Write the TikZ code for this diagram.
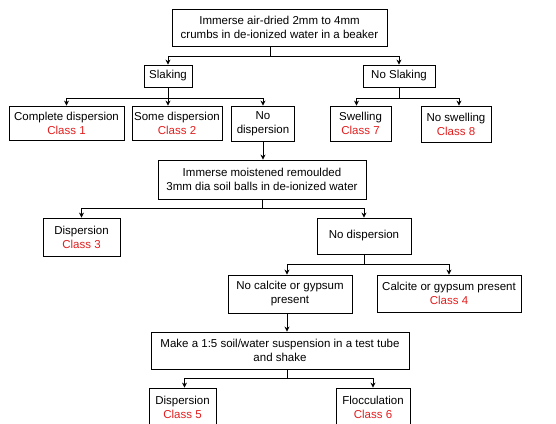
\documentclass[tikz,border=0pt]{standalone}
\usepackage{fontspec}
\setmainfont{Liberation Sans}
\usepackage{xcolor}
\usetikzlibrary{arrows.meta, positioning}

\definecolor{classred}{RGB}{225,30,30}
\newcommand{\cls}[1]{\textcolor{classred}{#1}}

\tikzset{
  box/.style={draw, line width=0.8pt, align=center, inner sep=1pt,
    font=\fontsize{11.5}{14}\selectfont},
  link/.style={line width=0.8pt},
}

\begin{document}
\begin{tikzpicture}[x=1pt,y=-1pt,>={Stealth[length=5pt,width=5pt]}]
			\useasboundingbox (0,0) rectangle (556,423);
			
			\node[box,minimum width=215pt,minimum height=37pt] (top) at (279.5,27.5) {Immerse air-dried 2mm to 4mm\\crumbs in de-ionized water in a beaker};
			\node[box,minimum width=48pt,minimum height=22pt] (slak) at (168,76) {Slaking};
			\node[box,minimum width=72pt,minimum height=22pt] (noslak) at (399,76) {No Slaking};
			
			\node[box,minimum width=115pt,minimum height=34pt] (comp) at (66.5,123) {Complete dispersion\\\cls{Class 1}};
			\node[box,minimum width=90pt,minimum height=34pt] (some) at (177,123) {Some dispersion\\\cls{Class 2}};
			\node[box,minimum width=63pt,minimum height=35pt] (nodisp) at (263,123.5) {No\\dispersion};
			\node[box,minimum width=61pt,minimum height=35pt] (swell) at (360.5,123.5) {Swelling\\\cls{Class 7}};
			\node[box,minimum width=70pt,minimum height=36pt] (noswell) at (456,124) {No swelling\\\cls{Class 8}};
			
			\node[box,minimum width=208pt,minimum height=39pt] (imm) at (262,179.5) {Immerse moistened remoulded\\3mm dia soil balls in de-ionized water};
			\node[box,minimum width=77pt,minimum height=38pt] (disp3) at (81.5,237) {Dispersion\\\cls{Class 3}};
			\node[box,minimum width=94pt,minimum height=36pt] (nodisp2) at (364,236) {No dispersion};
			
			\node[box,minimum width=124pt,minimum height=38pt] (nocalc) at (290,294) {No calcite or gypsum\\present};
			\node[box,minimum width=144pt,minimum height=37pt] (calc) at (449,293.5) {Calcite or gypsum present\\\cls{Class 4}};
			\node[box,minimum width=258pt,minimum height=37pt] (make) at (280,350.5) {Make a 1:5 soil/water suspension in a test tube\\and shake};
			\node[box,minimum width=67pt,minimum height=38pt] (disp5) at (182.5,407) {Dispersion\\\cls{Class 5}};
			\node[box,minimum width=74pt,minimum height=38pt] (floc) at (373,407) {Flocculation\\\cls{Class 6}};
			
			% branch points
			\coordinate (j1) at (270,56);
			\coordinate (j2) at (168,98);
			\coordinate (j3) at (399,98);
			\coordinate (j4) at (262,208);
			\coordinate (j5) at (364,264);
			\coordinate (j6) at (287,378);
			
			\draw[link] (top.south -| j1) -- (j1);
			\draw[link,->] (j1) -| (slak.north);
			\draw[link,->] (j1) -| (noslak.north);
			
			\draw[link] (slak.south) -- (j2);
			\draw[link,->] (j2) -| (comp.north);
			\draw[link,->] (j2) -- (j2 |- some.north);
			\draw[link,->] (j2) -| (nodisp.north);
			
			\draw[link] (noslak.south) -- (j3);
			\draw[link,->] (j3) -| ([xshift=-4pt]swell.north);
			\draw[link,->] (j3) -| ([xshift=3pt]noswell.north);
			
			\draw[link,->] (nodisp.south) -- (nodisp.south |- imm.north);
			
			\draw[link] (imm.south -| j4) -- (j4);
			\draw[link,->] (j4) -| (disp3.north);
			\draw[link,->] (j4) -| (nodisp2.north);
			
			\draw[link] (nodisp2.south) -- (j5);
			\draw[link,->] (j5) -| ([xshift=-3pt]nocalc.north);
			\draw[link,->] (j5) -| (calc.north);
			
			\draw[link,->] ([xshift=-3pt]nocalc.south) -- (j6 |- make.north);
			\draw[link] (make.south -| j6) -- (j6);
			\draw[link,->] (j6) -| ([xshift=2pt]disp5.north);
			\draw[link,->] (j6) -| (floc.north);
		\end{tikzpicture}
\end{document}
